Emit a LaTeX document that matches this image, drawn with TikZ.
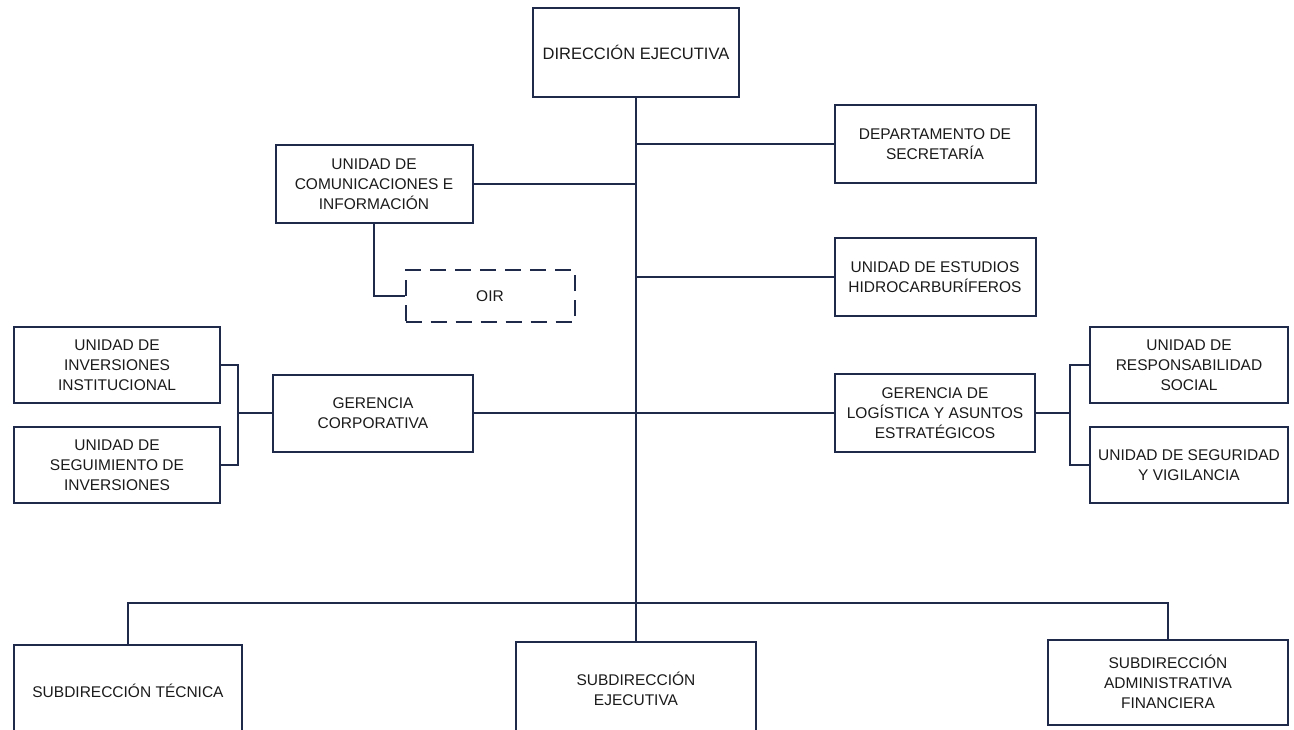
\documentclass[tikz,border=0pt]{standalone}
\usepackage{fontspec}
\setmainfont{Liberation Sans}
\definecolor{navy}{HTML}{1F2A4A}
\definecolor{txt}{HTML}{1A1A1A}
\begin{document}
\begin{tikzpicture}[x=1pt,y=-1pt,
  box/.style={draw=navy,line width=2pt,fill=white,align=center,text=txt,inner sep=2pt,
    font=\fontsize{15.5}{20}\selectfont},
  dashbox/.style={box,dash pattern=on 16pt off 9pt},
  conn/.style={draw=navy,line width=2pt}]
\useasboundingbox[fill=white] (0,0) rectangle (1294,729);
% nodes
\node[box,minimum width=206,minimum height=89,font=\fontsize{16.5}{20}\selectfont] (dir) at (636,52) {DIRECCIÓN EJECUTIVA};
\node[box,minimum width=201,minimum height=78] (sec) at (935,144) {DEPARTAMENTO DE\\SECRETARÍA};
\node[box,minimum width=197,minimum height=78] (com) at (374,184) {UNIDAD DE\\COMUNICACIONES E\\INFORMACIÓN};
\node[dashbox,minimum width=169,minimum height=52] (oir) at (490,296) {OIR};
\node[box,minimum width=201,minimum height=78] (est) at (935,277) {UNIDAD DE ESTUDIOS\\HIDROCARBURÍFEROS};
\node[box,minimum width=206,minimum height=76] (inv) at (117,365) {UNIDAD DE\\INVERSIONES\\INSTITUCIONAL};
\node[box,minimum width=206,minimum height=76] (seg) at (117,465) {UNIDAD DE\\SEGUIMIENTO DE\\INVERSIONES};
\node[box,minimum width=200,minimum height=77] (gc) at (373,413) {GERENCIA\\CORPORATIVA};
\node[box,minimum width=200,minimum height=78] (gl) at (935,413) {GERENCIA DE\\LOGÍSTICA Y ASUNTOS\\ESTRATÉGICOS};
\node[box,minimum width=198,minimum height=76] (rs) at (1189,365) {UNIDAD DE\\RESPONSABILIDAD\\SOCIAL};
\node[box,minimum width=198,minimum height=76] (sv) at (1189,465) {UNIDAD DE SEGURIDAD\\Y VIGILANCIA};
\node[box,minimum width=228,minimum height=92] (st) at (128,691) {SUBDIRECCIÓN TÉCNICA};
\node[box,minimum width=240,minimum height=94] (se) at (636,689) {SUBDIRECCIÓN\\EJECUTIVA};
\node[box,minimum width=240,minimum height=85] (sa) at (1168,682) {SUBDIRECCIÓN\\ADMINISTRATIVA\\FINANCIERA};
% coordinates
\coordinate (bl) at (238,413);
\coordinate (br) at (1070,413);
\coordinate (bar) at (636,603);
% connectors
\draw[conn] (dir.south) -- (dir.south |- se.north);
\draw[conn] (dir.south |- sec.west) -- (sec.west);
\draw[conn] (com.east) -- (dir.south |- com.east);
\draw[conn] (com.south) |- (oir.west);
\draw[conn] (dir.south |- est.west) -- (est.west);
\draw[conn] (gc.east) -- (gl.west);
\draw[conn] (inv.east) -| (bl) |- (seg.east);
\draw[conn] (bl) -- (gc.west);
\draw[conn] (rs.west) -| (br) |- (sv.west);
\draw[conn] (gl.east) -- (br);
\draw[conn] (st.north) -- (st.north |- bar) -- (sa.north |- bar) -- (sa.north);
\end{tikzpicture}
\end{document}
